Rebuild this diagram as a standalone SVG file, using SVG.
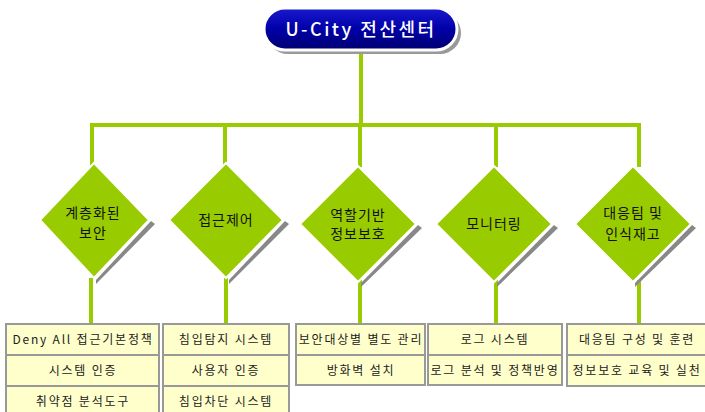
<svg xmlns="http://www.w3.org/2000/svg" width="705" height="412" viewBox="0 0 705 412">
<style>
.ln{stroke:#99cc00;stroke-width:4;fill:none}
.dm{fill:#99cc00;stroke:#fff;stroke-width:2}
.sh{fill:#888}
.dt{font-family:"Noto Sans CJK KR","Noto Sans",sans-serif;font-size:14px;fill:#111;text-anchor:middle;letter-spacing:1px}
.bx{fill:#ffffcc;stroke:#999;stroke-width:2}
.bt{font-family:"Noto Sans CJK KR","DejaVu Sans",sans-serif;font-size:12px;fill:#222;text-anchor:middle;letter-spacing:1.8px}
.tt{font-family:"Noto Sans CJK KR","DejaVu Sans",sans-serif;font-size:18px;fill:#fff;text-anchor:middle;letter-spacing:2.5px;font-weight:500}
</style>
<defs>
<linearGradient id="pg" x1="0" y1="0" x2="0" y2="1">
<stop offset="0" stop-color="#1a1ad0"/>
<stop offset="0.5" stop-color="#0000a8"/>
<stop offset="1" stop-color="#000070"/>
</linearGradient>
</defs>
<g id="connectors">
<line class="ln" x1="361" y1="50" x2="361" y2="125"/>
<line class="ln" x1="92" y1="125" x2="639" y2="125"/>
<line class="ln" x1="92" y1="123" x2="92" y2="165"/>
<line class="ln" x1="225" y1="125" x2="225" y2="165"/>
<line class="ln" x1="360" y1="125" x2="360" y2="167"/>
<line class="ln" x1="496" y1="125" x2="496" y2="167"/>
<line class="ln" x1="639" y1="123" x2="639" y2="167"/>
<line class="ln" x1="91" y1="278" x2="91" y2="324"/>
<line class="ln" x1="226" y1="278" x2="226" y2="324"/>
<line class="ln" x1="360" y1="280" x2="360" y2="324"/>
<line class="ln" x1="496" y1="280" x2="496" y2="324"/>
<line class="ln" x1="639" y1="280" x2="639" y2="324"/>
</g>
<g id="title">
<rect x="267" y="12" width="194" height="42" rx="21" fill="#999"/>
<rect x="264" y="8" width="193" height="42" rx="21" fill="url(#pg)" stroke="#fff" stroke-width="3"/>
<text class="tt" x="361" y="36">U-City 전산센터</text>
</g>
<g id="d1">
<polygon class="sh" points="151,221 96,280 96,284 155,224"/>
<polygon class="dm" points="94,163 149,220 94,278 40,220"/>
<text class="dt" x="93" y="218">계층화된</text>
<text class="dt" x="93" y="238">보안</text>
</g>
<g id="d2">
<polygon class="sh" points="285,221 229,280 229,284 289,224"/>
<polygon class="dm" points="226,163 283,220 226,278 169,220"/>
<text class="dt" x="226" y="225">접근제어</text>
</g>
<g id="d3">
<polygon class="sh" points="418,225 361,283 361,287 422,228"/>
<polygon class="dm" points="358,166 416,224 358,282 300,224"/>
<text class="dt" x="358" y="220">역할기반</text>
<text class="dt" x="358" y="239">정보보호</text>
</g>
<g id="d4">
<polygon class="sh" points="554,225 497,283 497,287 558,228"/>
<polygon class="dm" points="494,166 552,224 494,282 436,224"/>
<text class="dt" x="494" y="229">모니터링</text>
</g>
<g id="d5">
<polygon class="sh" points="692,225 635,283 635,287 696,228"/>
<polygon class="dm" points="633,166 691,224 633,282 575,224"/>
<text class="dt" x="633" y="218">대응팀 및</text>
<text class="dt" x="633" y="239">인식재고</text>
</g>
<g id="b1">
<rect class="bx" x="6" y="324" width="153" height="31"/>
<rect class="bx" x="6" y="355" width="153" height="31"/>
<rect class="bx" x="6" y="386" width="153" height="31"/>
<text class="bt" x="83" y="344">Deny All 접근기본정책</text>
<text class="bt" x="83" y="375">시스템 인증</text>
<text class="bt" x="83" y="406">취약점 분석도구</text>
</g>
<g id="b2">
<rect class="bx" x="163" y="324" width="126" height="31"/>
<rect class="bx" x="163" y="355" width="126" height="31"/>
<rect class="bx" x="163" y="386" width="126" height="31"/>
<text class="bt" x="226" y="344">침입탐지 시스템</text>
<text class="bt" x="226" y="375">사용자 인증</text>
<text class="bt" x="226" y="406">침입차단 시스템</text>
</g>
<g id="b3">
<rect class="bx" x="296" y="324" width="129" height="31"/>
<rect class="bx" x="296" y="355" width="129" height="30"/>
<text class="bt" x="361" y="344">보안대상별 별도 관리</text>
<text class="bt" x="361" y="375">방화벽 설치</text>
</g>
<g id="b4">
<rect class="bx" x="428" y="324" width="134" height="31"/>
<rect class="bx" x="428" y="355" width="134" height="30"/>
<text class="bt" x="495" y="344">로그 시스템</text>
<text class="bt" x="495" y="375">로그 분석 및 정책반영</text>
</g>
<g id="b5">
<rect class="bx" x="567" y="324" width="142" height="31"/>
<rect class="bx" x="567" y="355" width="142" height="31"/>
<text class="bt" x="637" y="344">대응팀 구성 및 훈련</text>
<text class="bt" x="637" y="375">정보보호 교육 및 실천</text>
</g>
</svg>
